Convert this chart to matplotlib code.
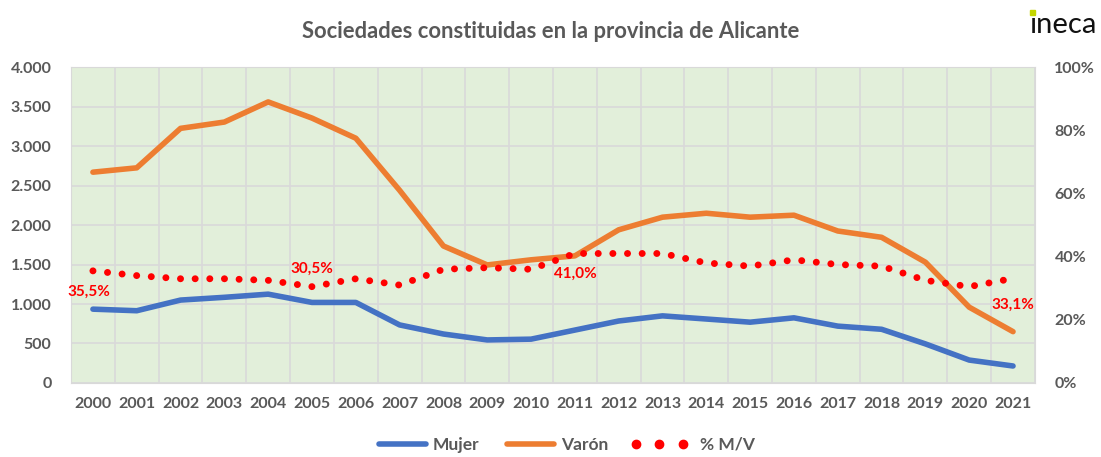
import matplotlib.pyplot as plt
from matplotlib.lines import Line2D
from matplotlib.patches import Rectangle

years = [str(y) for y in range(2000, 2022)]
mujer = [935, 915, 1050, 1085, 1125, 1020, 1020, 735, 620, 545, 555, 670,
         785, 850, 810, 770, 825, 720, 680, 495, 290, 215]
varon = [2670, 2725, 3225, 3305, 3560, 3355, 3100, 2440, 1735, 1495, 1560, 1610,
         1940, 2100, 2150, 2100, 2125, 1925, 1845, 1530, 960, 650]
ratio = [35.5, 34.0, 33.0, 33.0, 32.5, 30.5, 33.0, 31.0, 36.0, 36.5, 36.0, 41.0,
         41.0, 41.0, 38.0, 37.0, 39.0, 37.5, 37.0, 32.5, 30.5, 33.1]
ratio_labels = {0: '35,5%', 5: '30,5%', 11: '41,0%', 21: '33,1%'}

plt.rcParams['font.family'] = ['Lato', 'DejaVu Sans']
gray = '#595959'

fig = plt.figure(figsize=(11.01, 4.57), dpi=100)
ax = fig.add_axes([0.0645, 0.162, 0.8755, 0.691])
ax.set_facecolor('#E2EFDA')

x = list(range(len(years)))
l1, = ax.plot(x, mujer, color='#4472C4', lw=4, solid_capstyle='round', label='Mujer', zorder=3)
l2, = ax.plot(x, varon, color='#ED7D31', lw=4, solid_capstyle='round', label='Varón', zorder=3)
ax.set_ylim(0, 4000)
ax.set_xlim(-0.5, len(years) - 0.5)
ax.set_yticks(range(0, 4001, 500))
ax.set_yticklabels([f'{v:,}'.replace(',', '.') for v in range(0, 4001, 500)])
ax.set_xticks(x)
ax.set_xticklabels(years)
ax.set_xticks([i - 0.5 for i in range(len(years) + 1)], minor=True)
ax.grid(True, which='major', axis='y', color='#D9D9D9', lw=1.2)
ax.grid(True, which='minor', axis='x', color='#D9D9D9', lw=1.2)
ax.set_axisbelow(True)
ax.tick_params(which='both', length=0)
ax.tick_params(axis='x', pad=10)
ax.tick_params(axis='y', pad=14)
for lab in ax.get_xticklabels() + ax.get_yticklabels():
    lab.set_fontweight('bold')
    lab.set_color(gray)
    lab.set_fontsize(11.5)
for s in ax.spines.values():
    s.set_color('#D9D9D9')

ax2 = ax.twinx()
ax2.plot(x, ratio, color='#FF0000', lw=5, linestyle=(0, (0.01, 2.1)),
         dash_capstyle='round', zorder=4)
ax2.set_ylim(0, 100)
ax2.set_yticks(range(0, 101, 20))
ax2.set_yticklabels([f'{v}%' for v in range(0, 101, 20)])
ax2.tick_params(length=0, pad=14)
for lab in ax2.get_yticklabels():
    lab.set_fontweight('bold')
    lab.set_color(gray)
    lab.set_fontsize(11.5)
for s in ax2.spines.values():
    s.set_visible(False)

offsets = {0: (-0.1, -6.5), 5: (0.0, 5.5), 11: (0.0, -6.5), 21: (0.0, -8.5)}
for i, txt in ratio_labels.items():
    dx, dy = offsets[i]
    ax2.text(i + dx, ratio[i] + dy, txt, color='#FF0000', fontweight='bold',
             fontsize=11, ha='center', va='center')

fig.text(0.5, 0.93, 'Sociedades constituidas en la provincia de Alicante',
         ha='center', va='center', fontsize=15.8, fontweight='bold', color=gray)
fig.text(0.935, 0.945, '\u0131neca', ha='left', va='center', fontsize=21, color='#111111')
fig.patches.append(Rectangle((0.9358, 0.968), 0.0045, 0.011, transform=fig.transFigure,
                             color='#C4D600', zorder=5))

# legend: three dots for the ratio series, like the original
l3 = Line2D([], [], ls='none', marker='o', markersize=6, color='#FF0000', label='% M/V')
leg = fig.legend(handles=[l1, l2, l3], loc='center', bbox_to_anchor=(0.508, 0.027),
                 ncol=3, frameon=False, handlelength=3.3, columnspacing=1.3,
                 handletextpad=0.1, numpoints=3, prop={'weight': 'bold', 'size': 12.5})
for t in leg.get_texts():
    t.set_color(gray)
leg.get_texts()[2].set_x(10)

fig.savefig('out.png', dpi=100)
